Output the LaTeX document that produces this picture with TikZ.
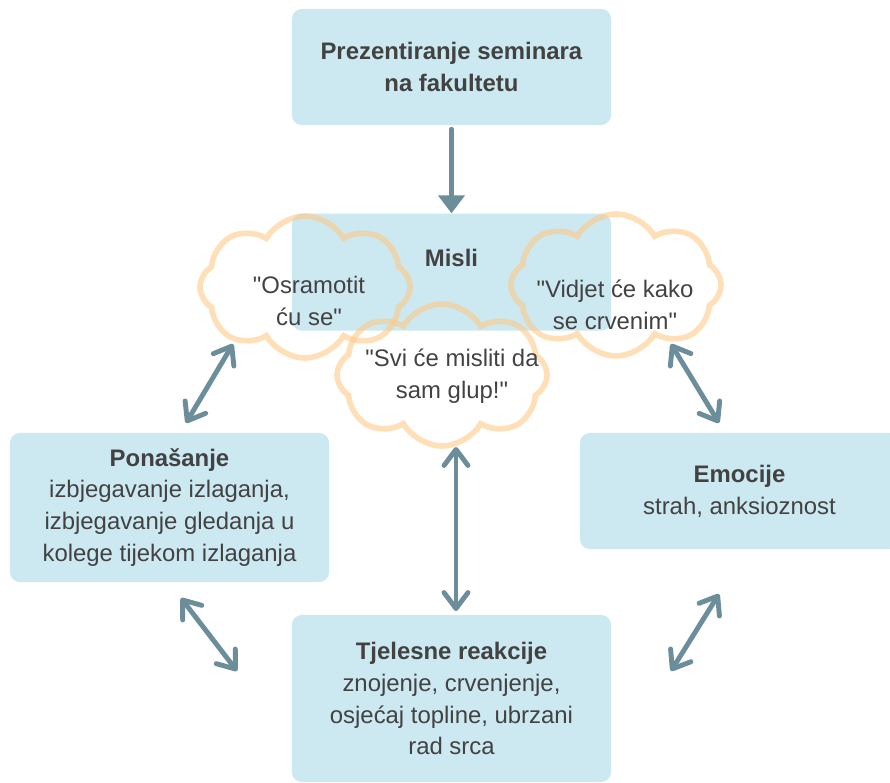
\documentclass[tikz,border=0pt]{standalone}
\usepackage{fontspec}
\setmainfont{Liberation Sans}[Ligatures=TeXOff]
\usepackage{tikz}
\usetikzlibrary{shapes.symbols, arrows.meta, positioning}
\definecolor{cBox}{RGB}{204,232,240}
\definecolor{cArrow}{RGB}{108,142,155}
\definecolor{cCloud}{RGB}{253,202,135}
\definecolor{cText}{RGB}{66,66,66}
\tikzset{
	box/.style       ={rectangle, rounded corners=7pt, minimum width=7.975cm, minimum height=2.9cm, align=center, fill=cBox, text=cText},
	thought/.style   ={cloud, cloud puffs=8, cloud puff arc=120, aspect=1.5, draw=cCloud, draw opacity=0.6, line width=4pt, minimum width=5.25cm, minimum height=3.55cm},
	quote/.style     ={align=center, text=cText},
	mainarrow/.style ={-{Triangle[length=0.45cm, width=0.65cm]}, line width=3.5pt, line cap=round, draw=cArrow},
	linkarrow/.style ={{Straight Barb[length=0.4cm, width=0.6cm, round]}-{Straight Barb[length=0.4cm, width=0.6cm, round]}, line width=3.5pt, line cap=round, draw=cArrow},
}
\begin{document}
\begin{tikzpicture}[x=0.025cm, y=-0.025cm, every node/.style={font=\fontsize{17}{22.7}\selectfont}]
	\useasboundingbox (0,0) rectangle (890,783);
	\clip (0,0) rectangle (890,783);
	% boxes
	\node[box] (sem) at (451.5,67) {\textbf{Prezentiranje seminara}\\\textbf{na fakultetu}};
	\node[box, minimum height=2.925cm, text depth=0.72cm, below=2.2cm of sem] (misli) {\textbf{Misli}};
	\node[box, minimum height=3.725cm] (pon) at (169.5,507.5) {\textbf{Ponašanje}\\izbjegavanje izlaganja,\\izbjegavanje gledanja u\\kolege tijekom izlaganja};
	\node[box] (emo) at (739.5,491) {\textbf{Emocije}\\strah, anksioznost};
	\node[box, minimum height=4.175cm] (tjel) at (451.5,698.5) {\textbf{Tjelesne reakcije}\\znojenje, crvenjenje,\\osjećaj topline, ubrzani\\rad srca};
	% thought clouds
	\node[thought] (cL) at (305,287) {};
	\node[thought] (cR) at (616,285) {};
	\node[thought] (cC) at (442,375) {};
	\node[quote] (qL) at (309,301) {"Osramotit\\ću se"};
	\node[quote] (qR) at (615,305) {"Vidjet će kako\\se crvenim"};
	\node[quote] (qC) at (452,376) {"Svi će misliti da\\sam glup!"};
	% arrows
	\draw[mainarrow, shorten <=0.1cm] (sem) -- (misli);
	\coordinate (lu1) at (233,344); \coordinate (lu2) at (186,423);
	\coordinate (ru1) at (671,344); \coordinate (ru2) at (719,423);
	\coordinate (cc1) at (456,447); \coordinate (cc2) at (456,611);
	\coordinate (ll1) at (181,598); \coordinate (ll2) at (237,671);
	\coordinate (lr1) at (719,594); \coordinate (lr2) at (671,671);
	\foreach \a/\b in {lu1/lu2, ru1/ru2, cc1/cc2, ll1/ll2, lr1/lr2} \draw[linkarrow] (\a) -- (\b);
\end{tikzpicture}
\end{document}
